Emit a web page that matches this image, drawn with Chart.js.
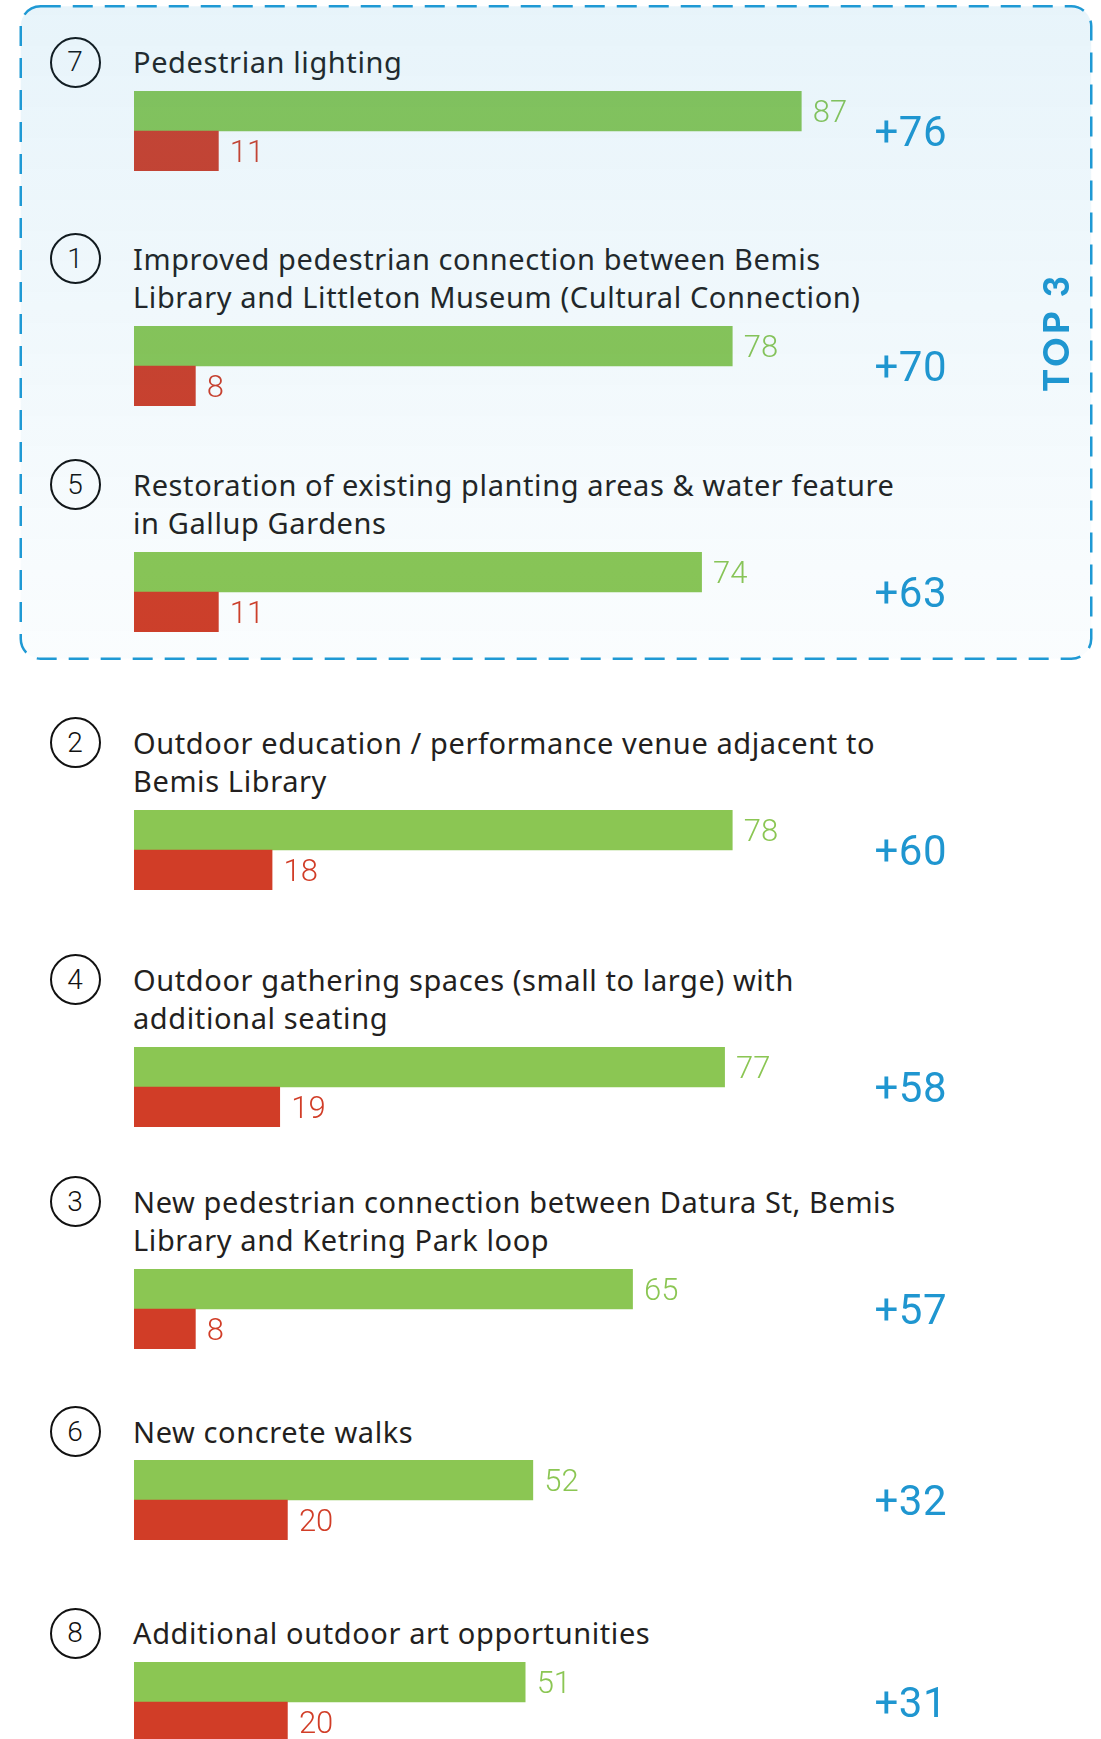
<!DOCTYPE html>
<html>
<head>
<meta charset="utf-8">
<script src="https://cdn.jsdelivr.net/npm/chart.js@4.4.1/dist/chart.umd.min.js"></script>
<style>
  html, body { margin: 0; padding: 0; background: #ffffff; }
  body { width: 1101px; height: 1739px; overflow: hidden; position: relative; font-family: 'Noto Sans', sans-serif; }
  #list { position: absolute; left: 0; top: 0; width: 1101px; }
  .item { position: relative; }
  .head { position: relative; padding-left: 133px; font-size: 29px; line-height: 38.5px; color: #231f20; letter-spacing: 0.6px; white-space: nowrap; }
  .num { position: absolute; left: 49.5px; top: -6.5px; width: 47px; height: 47px; border: 2px solid #111; border-radius: 50%;
         display: flex; align-items: center; justify-content: center; font-family: Roboto, sans-serif; font-weight: 300;
         font-size: 28px; line-height: 1; color: #111; letter-spacing: 0; }
  .bars { position: relative; margin-left: 134px; margin-top: 9px; width: 967px; height: 80px; }
  .bars canvas { position: absolute; left: 0; top: 0; }
  .diff { position: absolute; left: 740.5px; top: 20px; font-family: Roboto, sans-serif; font-weight: 400; font-size: 42px; line-height: 42px; color: #1f96d0; white-space: nowrap; letter-spacing: 0.5px; }
  #box { position: absolute; left: 0; top: 0; pointer-events: none; z-index: 3; }
  #top3 { position: absolute; left: 1055px; top: 332px; transform: translate(-50%, -50%) rotate(-90deg); font-family: Lato, sans-serif;
          font-weight: 900; font-size: 36px; letter-spacing: 3.5px; color: #1f96d0; white-space: nowrap; z-index: 4; }
</style>
</head>
<body>
<div id="list"></div>
<svg id="box" width="1101" height="1739" xmlns="http://www.w3.org/2000/svg">
  <defs>
    <linearGradient id="boxGrad" x1="0" y1="0" x2="0" y2="1">
      <stop offset="0" stop-color="rgb(30,150,210)" stop-opacity="0.105"/>
      <stop offset="1" stop-color="rgb(30,150,210)" stop-opacity="0.022"/>
    </linearGradient>
  </defs>
  <rect x="20.75" y="6.25" width="1070.5" height="652.5" rx="20" ry="20" fill="url(#boxGrad)"
        stroke="#1f99d4" stroke-width="2.5" stroke-dasharray="20 12"/>
</svg>
<div id="top3">TOP 3</div>
<script>
// ---- data ----
const itemNumbers = [7, 1, 5, 2, 4, 3, 6, 8];
const categories = [
  ["Pedestrian lighting"],
  ["Improved pedestrian connection between Bemis", "Library and Littleton Museum (Cultural Connection)"],
  ["Restoration of existing planting areas & water feature", "in Gallup Gardens"],
  ["Outdoor education / performance venue adjacent to", "Bemis Library"],
  ["Outdoor gathering spaces (small to large) with", "additional seating"],
  ["New pedestrian connection between Datura St, Bemis", "Library and Ketring Park loop"],
  ["New concrete walks"],
  ["Additional outdoor art opportunities"]
];
const supportValues = [87, 78, 74, 78, 77, 65, 52, 51];
const opposeValues  = [11, 8, 11, 18, 19, 8, 20, 20];
const seriesNames = ["Support", "Oppose"];
const axisTicks = [0, 100];

// ---- layout / style ----
const blockGaps = [43, 69, 60, 92, 71, 56, 64, 74];
const barColors = ["#8bc653", "#d13d27"];
const labelColors = ["#8bc653", "#d13d27"];

const valueLabels = {
  id: 'valueLabels',
  afterDatasetsDraw(chart) {
    const ctx = chart.ctx;
    const meta = chart.getDatasetMeta(0);
    ctx.save();
    ctx.font = '300 31px Roboto';
    ctx.textAlign = 'left';
    ctx.textBaseline = 'alphabetic';
    meta.data.forEach((bar, j) => {
      const v = chart.data.datasets[0].data[j];
      ctx.fillStyle = labelColors[j];
      ctx.fillText(String(v), bar.x + 11.5, bar.y + 11);
    });
    ctx.restore();
  }
};

const list = document.getElementById('list');
categories.forEach((lines, i) => {
  const item = document.createElement('div');
  item.className = 'item';
  item.style.paddingTop = blockGaps[i] + 'px';

  const head = document.createElement('div');
  head.className = 'head';
  const num = document.createElement('div');
  num.className = 'num';
  num.textContent = itemNumbers[i];
  head.appendChild(num);
  lines.forEach((ln, k) => {
    if (k > 0) head.appendChild(document.createElement('br'));
    head.appendChild(document.createTextNode(ln));
  });
  item.appendChild(head);

  const bars = document.createElement('div');
  bars.className = 'bars';
  const canvas = document.createElement('canvas');
  canvas.width = 967; canvas.height = 80;
  canvas.style.width = '967px'; canvas.style.height = '80px';
  bars.appendChild(canvas);
  const diff = document.createElement('div');
  diff.className = 'diff';
  diff.textContent = '+' + (supportValues[i] - opposeValues[i]);
  bars.appendChild(diff);
  item.appendChild(bars);
  list.appendChild(item);

  new Chart(canvas, {
    type: 'bar',
    data: {
      labels: seriesNames,
      datasets: [{
        data: [supportValues[i], opposeValues[i]],
        backgroundColor: barColors,
        borderWidth: 0,
        barPercentage: 1,
        categoryPercentage: 1
      }]
    },
    options: {
      indexAxis: 'y',
      responsive: false,
      animation: false,
      devicePixelRatio: 1,
      layout: { padding: { left: 0, right: 200, top: 0, bottom: 0 } },
      scales: {
        x: { min: axisTicks[0], max: axisTicks[1], display: false },
        y: { display: false }
      },
      plugins: { legend: { display: false }, tooltip: { enabled: false } }
    },
    plugins: [valueLabels]
  });
});
</script>
</body>
</html>
